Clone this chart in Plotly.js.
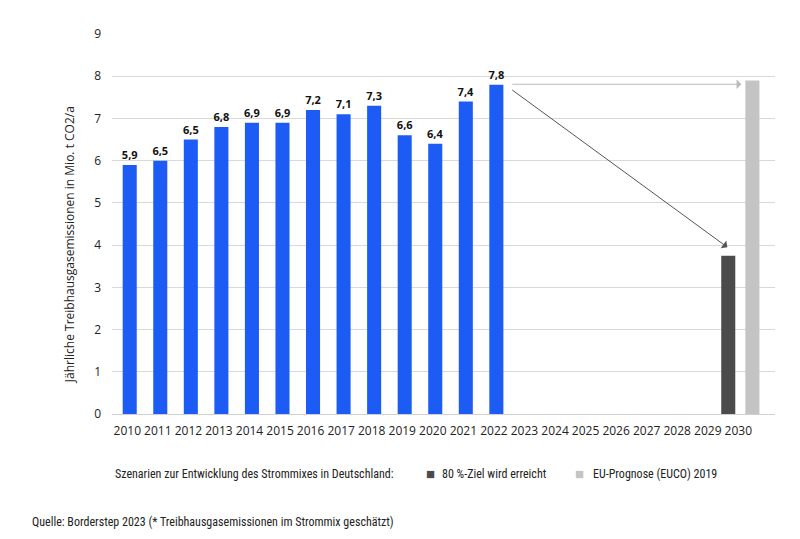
<!DOCTYPE html>
<html>
<head>
<meta charset="utf-8">
<script src="https://cdn.plot.ly/plotly-3.0.1.min.js"></script>
<style>html,body{margin:0;padding:0;background:#fff;}#chart{width:800px;height:539px;}</style>
</head>
<body>
<div id="chart"></div>
<script>
const years = ['2010','2011','2012','2013','2014','2015','2016','2017','2018','2019','2020','2021','2022','2023','2024','2025','2026','2027','2028','2029','2030'];
const histYears = ['2010','2011','2012','2013','2014','2015','2016','2017','2018','2019','2020','2021','2022'];
const histValues = [5.9, 6.0, 6.5, 6.8, 6.9, 6.9, 7.2, 7.1, 7.3, 6.6, 6.4, 7.4, 7.8];
const histLabels = ['5,9','6,5','6,5','6,8','6,9','6,9','7,2','7,1','7,3','6,6','6,4','7,4','7,8'];
const targetYear = ['2029'];
const targetValue = [3.75];
const targetName = '80 %-Ziel wird erreicht';
const euYear = ['2030'];
const euValue = [7.9];
const euName = 'EU-Prognose (EUCO) 2019';
const yTicks = [0,1,2,3,4,5,6,7,8,9];

const FONT = '"Open Sans", "Noto Sans", sans-serif';
const NARROW = '"Liberation Sans Narrow", "Roboto Condensed", "DejaVu Sans Condensed", sans-serif';
const BLUE = '#1c5cf5', DARK = '#4b4b4b', LIGHT = '#c4c4c4';

const traces = [
  {type:'bar', x:histYears, y:histValues, text:histLabels, textposition:'outside', constraintext:'none',
   textfont:{family:FONT, size:11, color:'#111', weight:'bold'}, marker:{color:BLUE},
   width:0.46, offset:-0.15, showlegend:false, cliponaxis:false, hoverinfo:'x+y'},
  {type:'bar', x:targetYear, y:targetValue, name:targetName, marker:{color:DARK},
   width:0.46, offset:0.44, showlegend:false},
  {type:'bar', x:euYear, y:euValue, name:euName, marker:{color:LIGHT},
   width:0.46, offset:0.23, showlegend:false}
];

const idx2022 = years.indexOf('2022');
const idxTarget = years.indexOf(targetYear[0]);
const v2022 = histValues[histValues.length-1];

const annotations = [
  {xref:'paper', yref:'paper', x:-0.063, y:0.445, text:'Jährliche Treibhausgasemissionen in Mio. t CO2/a',
   textangle:-90, showarrow:false, font:{family:FONT, size:12, color:'#222'}, xanchor:'center', yanchor:'middle'},
  {xref:'x', yref:'y', axref:'x', ayref:'y', x:idxTarget+0.64, y:targetValue[0]+0.2,
   ax:idx2022+0.55, ay:v2022-0.1, text:'', showarrow:true, arrowhead:1, arrowsize:1.6, arrowwidth:1, arrowcolor:'#555'},
  {xref:'x', yref:'y', axref:'x', ayref:'y', x:idxTarget+1.1, y:v2022+0.01,
   ax:idx2022+0.55, ay:v2022+0.01, text:'', showarrow:true, arrowhead:1, arrowsize:1.6, arrowwidth:1, arrowcolor:'#bbb'},
  {xref:'paper', yref:'paper', x:0.0015, y:-0.158, xanchor:'left', yanchor:'middle', showarrow:false,
   text:'Szenarien zur Entwicklung des Strommixes in Deutschland:', font:{family:NARROW, size:12, color:'#222'}},
  {xref:'paper', yref:'paper', x:0.470, y:-0.156, xanchor:'left', yanchor:'middle', showarrow:false,
   text:'■', font:{family:FONT, size:15, color:DARK}},
  {xref:'paper', yref:'paper', x:0.495, y:-0.158, xanchor:'left', yanchor:'middle', showarrow:false,
   text:targetName, font:{family:NARROW, size:12, color:'#222'}},
  {xref:'paper', yref:'paper', x:0.696, y:-0.156, xanchor:'left', yanchor:'middle', showarrow:false,
   text:'■', font:{family:FONT, size:15, color:LIGHT}},
  {xref:'paper', yref:'paper', x:0.722, y:-0.158, xanchor:'left', yanchor:'middle', showarrow:false,
   text:euName, font:{family:NARROW, size:12, color:'#222'}},
  {xref:'paper', yref:'paper', x:-0.124, y:-0.284, xanchor:'left', yanchor:'middle', showarrow:false,
   text:'Quelle: Borderstep 2023 (* Treibhausgasemissionen im Strommix geschätzt)', font:{family:NARROW, size:12, color:'#222'}}
];

const layout = {
  width:800, height:539,
  margin:{l:112, r:25, t:34, b:125},
  paper_bgcolor:'#fff', plot_bgcolor:'#fff',
  font:{family:FONT, size:12, color:'#222'},
  barmode:'overlay',
  xaxis:{type:'category', categoryorder:'array', categoryarray:years, tickvals:years, ticktext:years,
         range:[-0.5, 21.2], showgrid:false, showline:true, linecolor:'#d0d0d0', linewidth:1,
         ticks:'', ticklabelstandoff:6, tickfont:{family:FONT, size:12, color:'#222'}, fixedrange:true},
  yaxis:{range:[0,9], tickvals:yTicks, showgrid:true, gridcolor:'#d9d9d9', gridwidth:1,
         zeroline:false, showline:false, ticks:'', ticklabelstandoff:10,
         tickfont:{family:FONT, size:12, color:'#222'}, fixedrange:true},
  showlegend:false,
  annotations:annotations
};

Plotly.newPlot('chart', traces, layout, {displayModeBar:false, staticPlot:true});
</script>
</body>
</html>
